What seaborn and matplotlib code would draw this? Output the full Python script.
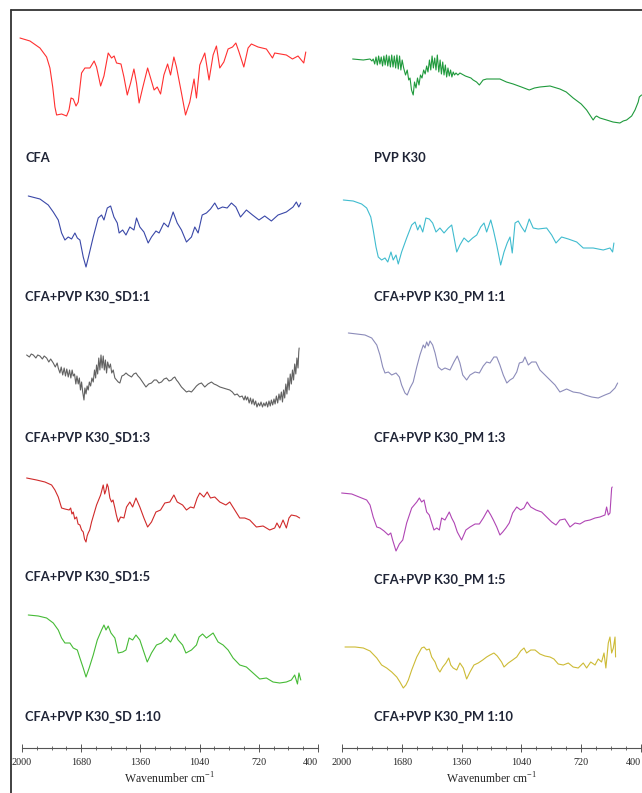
import numpy as np
import pandas as pd
import seaborn as sns
import matplotlib.pyplot as plt
from matplotlib.lines import Line2D
from matplotlib.ticker import MultipleLocator

sns.set_theme(style="white")
plt.rcParams['font.family'] = ['DejaVu Sans']
plt.rcParams['mathtext.fontset'] = 'custom'
plt.rcParams['mathtext.rm'] = 'Liberation Serif'

# ---------------- data: (wavenumber cm-1, relative transmittance) ----------------
CFA = [(2011, 92), (1957, 89), (1903, 82), (1867, 73), (1849, 62), (1834, 43), (1822, 23), (1813, 15),
       (1786, 16), (1759, 14), (1746, 20), (1735, 32), (1723, 31), (1708, 24), (1696, 28), (1678, 57),
       (1660, 62), (1633, 62), (1610, 69), (1597, 63), (1575, 44), (1557, 54), (1534, 77), (1516, 72),
       (1502, 74), (1489, 67), (1465, 66), (1449, 53), (1431, 35), (1413, 47), (1395, 61), (1381, 47),
       (1367, 27), (1348, 42), (1321, 62), (1305, 52), (1286, 40), (1269, 43), (1251, 36), (1233, 55),
       (1213, 66), (1197, 55), (1179, 73), (1165, 63), (1138, 37), (1116, 15), (1093, 28), (1070, 51),
       (1057, 32), (1039, 65), (1012, 77), (989, 50), (967, 75), (949, 84), (931, 62), (909, 68),
       (886, 81), (862, 83), (844, 87), (827, 78), (801, 63), (778, 82), (760, 86), (724, 83),
       (679, 81), (646, 72), (634, 77), (571, 75), (538, 71), (508, 74), (477, 67), (466, 78)]

PVP_K30 = [(1943, 71), (1886, 70), (1850, 71), (1840, 69), (1833, 71), (1825, 66), (1818, 73), (1811, 65),
           (1804, 74), (1797, 66), (1790, 73), (1783, 64), (1776, 74), (1769, 65), (1762, 75), (1755, 64),
           (1748, 74), (1741, 63), (1734, 75), (1727, 63), (1720, 74), (1713, 62), (1706, 75), (1699, 61),
           (1692, 74), (1685, 60), (1678, 70), (1670, 62), (1660, 55), (1651, 60), (1643, 50), (1636, 52),
           (1628, 40), (1619, 35), (1612, 48), (1604, 42), (1596, 52), (1588, 45), (1580, 55), (1572, 52),
           (1563, 60), (1555, 56), (1547, 64), (1540, 58), (1532, 70), (1525, 60), (1518, 74), (1511, 62),
           (1504, 72), (1497, 60), (1490, 75), (1482, 58), (1475, 70), (1468, 56), (1461, 68), (1454, 55),
           (1447, 65), (1440, 53), (1433, 62), (1426, 54), (1419, 60), (1412, 53), (1405, 58), (1398, 55),
           (1390, 57), (1380, 55), (1369, 57), (1340, 54), (1310, 52), (1298, 50), (1280, 48), (1265, 45),
           (1245, 50), (1226, 51), (1190, 51), (1155, 51), (1120, 48), (1084, 46), (1040, 43), (998, 40),
           (970, 42), (941, 43), (887, 44), (834, 41), (800, 38), (763, 32), (720, 26), (691, 20),
           (670, 14), (656, 10), (645, 13), (638, 14), (620, 12), (584, 10), (550, 8), (513, 7),
           (495, 9), (477, 10), (450, 14), (432, 20), (415, 28), (409, 33), (397, 35)]

SD_1_1 = [(1966, 74), (1903, 71), (1858, 65), (1831, 58), (1804, 50), (1786, 37), (1768, 30), (1750, 33),
          (1732, 31), (1714, 37), (1701, 32), (1687, 30), (1669, 13), (1654, 3), (1642, 12), (1615, 33),
          (1588, 52), (1570, 55), (1557, 50), (1539, 62), (1521, 64), (1503, 53), (1485, 47), (1475, 37),
          (1456, 40), (1438, 35), (1417, 43), (1395, 40), (1381, 52), (1363, 43), (1341, 38), (1318, 27),
          (1300, 33), (1276, 39), (1259, 37), (1233, 47), (1210, 43), (1183, 58), (1161, 47), (1138, 40),
          (1111, 28), (1084, 33), (1066, 43), (1048, 37), (1026, 55), (1003, 57), (981, 61), (958, 67),
          (940, 61), (916, 63), (891, 62), (868, 67), (844, 63), (819, 53), (787, 60), (754, 55),
          (719, 50), (688, 54), (652, 49), (616, 55), (571, 58), (535, 63), (517, 68), (504, 63), (493, 67)]

PM_1_1 = [(1993, 70), (1940, 69), (1895, 66), (1868, 62), (1846, 53), (1833, 40), (1818, 23), (1806, 13),
          (1788, 10), (1770, 12), (1755, 8), (1738, 18), (1726, 10), (1711, 15), (1699, 6), (1681, 18),
          (1654, 32), (1627, 45), (1609, 48), (1595, 40), (1583, 45), (1568, 38), (1551, 52), (1533, 51),
          (1515, 47), (1497, 38), (1476, 42), (1454, 37), (1431, 42), (1413, 45), (1401, 33), (1386, 18),
          (1369, 25), (1347, 32), (1324, 28), (1301, 32), (1279, 35), (1258, 43), (1240, 47), (1226, 38),
          (1204, 50), (1190, 40), (1172, 25), (1151, 5), (1133, 18), (1116, 27), (1101, 33), (1089, 17),
          (1074, 47), (1057, 49), (1039, 43), (1021, 38), (998, 51), (977, 42), (950, 41), (905, 42),
          (878, 35), (855, 27), (825, 33), (789, 31), (744, 28), (709, 22), (656, 22), (602, 20),
          (566, 22), (552, 18), (545, 27)]

SD_1_3 = [(1975, 65), (1960, 63), (1950, 66), (1939, 65), (1925, 62), (1915, 65), (1903, 64), (1890, 61),
          (1880, 64), (1867, 62), (1855, 58), (1845, 61), (1831, 57), (1820, 53), (1810, 57), (1804, 52),
          (1795, 47), (1788, 53), (1780, 45), (1772, 52), (1765, 44), (1758, 51), (1750, 43), (1743, 50),
          (1736, 42), (1729, 50), (1723, 44), (1716, 46), (1709, 36), (1703, 44), (1696, 36), (1690, 42),
          (1684, 30), (1678, 38), (1672, 28), (1665, 20), (1660, 32), (1654, 26), (1648, 34), (1642, 30),
          (1636, 38), (1629, 34), (1622, 42), (1615, 38), (1608, 50), (1602, 42), (1597, 55), (1591, 46),
          (1585, 62), (1579, 50), (1573, 65), (1567, 52), (1561, 64), (1555, 50), (1549, 60), (1543, 47),
          (1537, 58), (1529, 52), (1522, 56), (1515, 47), (1507, 50), (1498, 42), (1489, 40), (1480, 38),
          (1471, 37), (1460, 44), (1449, 45), (1438, 47), (1426, 45), (1417, 44), (1408, 43), (1396, 46),
          (1384, 47), (1373, 44), (1363, 42), (1345, 37), (1330, 33), (1315, 36), (1300, 37), (1285, 40),
          (1273, 40), (1260, 37), (1246, 38), (1232, 41), (1219, 42), (1205, 39), (1192, 40), (1183, 42),
          (1174, 43), (1165, 40), (1156, 38), (1138, 33), (1111, 28), (1098, 29), (1084, 28), (1070, 31),
          (1057, 34), (1044, 36), (1030, 37), (1021, 35), (1012, 33), (995, 36), (976, 38), (962, 36),
          (949, 35), (930, 33), (913, 32), (895, 31), (877, 30), (863, 28), (850, 25), (837, 26),
          (823, 23), (810, 24), (800, 20), (793, 24), (787, 20), (780, 23), (772, 17), (765, 22),
          (758, 16), (751, 21), (744, 15), (737, 19), (730, 13), (722, 17), (715, 14), (708, 18),
          (700, 13), (693, 17), (686, 14), (679, 18), (672, 13), (665, 19), (658, 14), (652, 20),
          (645, 15), (638, 21), (632, 16), (625, 24), (618, 17), (611, 26), (605, 20), (598, 28),
          (592, 18), (586, 30), (580, 22), (574, 36), (568, 26), (562, 42), (556, 30), (550, 46),
          (544, 36), (538, 50), (532, 40), (526, 56), (520, 46), (514, 62), (508, 52), (504, 68), (502, 72)]

PM_1_3 = [(1966, 87), (1921, 86), (1877, 85), (1841, 82), (1814, 75), (1797, 65), (1782, 53), (1770, 47),
          (1752, 48), (1734, 45), (1711, 47), (1693, 43), (1681, 35), (1663, 27), (1651, 25), (1636, 32),
          (1619, 38), (1600, 53), (1583, 65), (1565, 75), (1556, 72), (1547, 78), (1538, 74), (1529, 79),
          (1515, 75), (1502, 67), (1485, 53), (1467, 50), (1449, 52), (1422, 50), (1401, 58), (1383, 64),
          (1369, 57), (1354, 45), (1333, 40), (1315, 45), (1288, 48), (1265, 47), (1244, 54), (1226, 58),
          (1208, 57), (1187, 63), (1172, 63), (1155, 55), (1137, 45), (1118, 37), (1101, 40), (1084, 42),
          (1065, 48), (1051, 57), (1033, 58), (1021, 63), (1003, 55), (985, 58), (962, 58), (941, 50),
          (914, 45), (887, 40), (860, 35), (834, 28), (798, 31), (763, 28), (727, 27), (700, 25),
          (664, 23), (629, 22), (593, 25), (566, 27), (539, 32), (525, 37)]

SD_1_5 = [(1975, 72), (1921, 70), (1876, 68), (1840, 65), (1822, 60), (1804, 53), (1786, 42), (1768, 41),
          (1745, 40), (1737, 42), (1730, 36), (1723, 38), (1715, 31), (1705, 33), (1697, 26), (1687, 25),
          (1678, 20), (1669, 18), (1662, 11), (1654, 8), (1648, 14), (1642, 17), (1634, 20), (1624, 28),
          (1597, 45), (1575, 55), (1568, 60), (1561, 65), (1553, 56), (1546, 60), (1540, 66), (1534, 63),
          (1525, 52), (1516, 48), (1508, 50), (1498, 42), (1490, 35), (1480, 28), (1467, 33), (1449, 32),
          (1435, 43), (1417, 48), (1402, 43), (1384, 52), (1363, 43), (1341, 32), (1321, 23), (1300, 28),
          (1276, 38), (1251, 40), (1228, 47), (1201, 48), (1179, 55), (1161, 48), (1132, 45), (1111, 40),
          (1089, 43), (1071, 42), (1053, 52), (1039, 57), (1017, 53), (999, 58), (981, 52), (958, 53),
          (931, 48), (898, 45), (877, 48), (850, 40), (823, 32), (796, 32), (769, 30), (733, 23),
          (697, 24), (661, 20), (634, 22), (622, 27), (607, 22), (589, 30), (571, 22), (557, 32),
          (544, 35), (517, 34), (499, 32)]

PM_1_5 = [(2002, 67), (1948, 66), (1895, 62), (1868, 60), (1850, 55), (1833, 43), (1814, 33), (1797, 32),
          (1775, 29), (1752, 25), (1739, 27), (1729, 20), (1711, 9), (1693, 16), (1675, 20), (1654, 37),
          (1627, 52), (1600, 58), (1586, 62), (1574, 58), (1561, 60), (1547, 48), (1533, 45), (1520, 37),
          (1508, 30), (1493, 32), (1479, 30), (1467, 42), (1449, 40), (1426, 48), (1413, 42), (1399, 37),
          (1383, 28), (1360, 20), (1337, 30), (1315, 33), (1288, 36), (1265, 36), (1244, 42), (1220, 50),
          (1204, 45), (1190, 40), (1172, 33), (1155, 25), (1140, 28), (1123, 32), (1105, 37), (1087, 47),
          (1065, 53), (1044, 50), (1026, 52), (1009, 58), (990, 53), (962, 50), (932, 48), (905, 43),
          (878, 38), (855, 35), (834, 40), (807, 41), (780, 33), (753, 37), (727, 36), (700, 39),
          (673, 40), (646, 42), (620, 43), (593, 45), (584, 53), (575, 45), (566, 47), (557, 72), (554, 73)]

SD_1_10 = [(1966, 85), (1912, 84), (1867, 82), (1831, 77), (1804, 70), (1786, 62), (1768, 57), (1741, 57),
           (1723, 52), (1701, 50), (1687, 42), (1669, 32), (1654, 23), (1637, 32), (1615, 45), (1593, 60),
           (1570, 70), (1557, 75), (1546, 70), (1534, 74), (1519, 67), (1498, 62), (1480, 47), (1456, 48),
           (1438, 50), (1421, 62), (1402, 60), (1384, 65), (1363, 60), (1345, 50), (1323, 38), (1300, 47),
           (1273, 55), (1246, 57), (1219, 62), (1197, 58), (1174, 66), (1156, 60), (1132, 55), (1114, 47),
           (1084, 50), (1057, 55), (1043, 63), (1024, 66), (1003, 62), (967, 67), (940, 58), (913, 55),
           (886, 50), (859, 42), (823, 35), (787, 33), (751, 27), (715, 21), (679, 22), (643, 18),
           (607, 17), (571, 18), (544, 20), (526, 25), (511, 16), (503, 27), (493, 20)]

PM_1_10 = [(1984, 53), (1930, 53), (1886, 52), (1850, 49), (1814, 42), (1788, 35), (1761, 32), (1734, 28),
           (1707, 23), (1690, 18), (1672, 12), (1658, 15), (1645, 20), (1627, 30), (1600, 43), (1574, 52),
           (1561, 53), (1547, 50), (1533, 51), (1520, 43), (1502, 38), (1490, 32), (1476, 28), (1461, 33),
           (1444, 37), (1429, 42), (1418, 35), (1405, 32), (1386, 30), (1369, 37), (1351, 32), (1333, 21),
           (1315, 28), (1294, 35), (1271, 37), (1247, 40), (1226, 43), (1208, 45), (1187, 47), (1169, 44),
           (1146, 38), (1133, 33), (1110, 37), (1087, 40), (1065, 43), (1044, 49), (1026, 52), (1012, 47),
           (990, 50), (967, 50), (941, 46), (914, 44), (887, 43), (866, 41), (843, 36), (816, 35),
           (789, 37), (763, 33), (736, 32), (709, 37), (691, 32), (669, 38), (646, 35), (629, 41),
           (611, 38), (598, 47), (588, 32), (575, 57), (566, 63), (557, 47), (548, 52), (539, 63), (536, 43)]

NAMES = ["CFA", "PVP K30",
         "CFA+PVP K30_SD1:1", "CFA+PVP K30_PM 1:1",
         "CFA+PVP K30_SD1:3", "CFA+PVP K30_PM 1:3",
         "CFA+PVP K30_SD1:5", "CFA+PVP K30_PM 1:5",
         "CFA+PVP K30_SD 1:10", "CFA+PVP K30_PM 1:10"]
SERIES = [CFA, PVP_K30, SD_1_1, PM_1_1, SD_1_3, PM_1_3, SD_1_5, PM_1_5, SD_1_10, PM_1_10]
COLORS = ["#ff3030", "#1f9a3c", "#3a48a8", "#40bccf", "#626262",
          "#8c8cba", "#d02a2a", "#b046b4", "#46bb36", "#cdbb36"]
TICKS = [2000, 1680, 1360, 1040, 720, 400]

# ---------------- layout (pixels) ----------------
W, H = 642, 793
fig = plt.figure(figsize=(W / 100, H / 100), dpi=100)

COLS = [(22, 318), (342, 641)]
BANDS = [(130, 130), (270, 270), (420, 420), (550, 560), (700, 700)]   # band bottoms (left, right)
BAND_H = 110
LABEL_Y = [(158, 158), (297, 297), (438, 438), (577, 580), (717, 717)]
LABEL_X = [25, 374]


def add_ax(x0, y0, x1, y1):
    return fig.add_axes([x0 / W, 1 - y1 / H, (x1 - x0) / W, (y1 - y0) / H])


for i, (name, data, color) in enumerate(zip(NAMES, SERIES, COLORS)):
    row, col = divmod(i, 2)
    x0, x1 = COLS[col]
    yb = BANDS[row][col]
    ax = add_ax(x0, yb - BAND_H, x1, yb)
    df = pd.DataFrame(data, columns=["wavenumber", "T"])
    sns.lineplot(data=df, x="wavenumber", y="T", ax=ax, color=color, lw=0.8,
                 sort=False, estimator=None)
    for ln in ax.lines:
        ln.set_clip_on(False)
    ax.set_xlim(2000, 400)
    ax.set_ylim(0, BAND_H)
    ax.axis("off")
    fig.text(LABEL_X[col] / W, 1 - LABEL_Y[row][col] / H, name,
             family=["Lato", "DejaVu Sans"], fontweight="bold", fontsize=9.3,
             color="#1f2436", va="center", ha="left")

# bottom wavenumber axes
for (x0, x1) in COLS:
    ax = add_ax(x0, 747, x1, 748)
    ax.set_xlim(2000, 400)
    ax.set_yticks([])
    for s in ("top", "left", "right"):
        ax.spines[s].set_visible(False)
    ax.spines["bottom"].set_color("#555555")
    ax.spines["bottom"].set_linewidth(0.8)
    ax.patch.set_alpha(0)
    ax.set_xticks(TICKS)
    ax.set_xticklabels([str(t) for t in TICKS], family="Liberation Serif", fontsize=7.3)
    ax.get_xticklabels()[-1].set_horizontalalignment("right")
    ax.xaxis.set_minor_locator(MultipleLocator(80))
    ax.tick_params(axis="x", which="major", direction="inout", length=6, width=0.7,
                   color="#555555", pad=4, bottom=True)
    ax.tick_params(axis="x", which="minor", direction="inout", length=3, width=0.6,
                   color="#555555", bottom=True)
    ax.set_xlabel(r"Wavenumber cm$^{\mathregular{-1}}$", family="Liberation Serif",
                  fontsize=8.5, labelpad=3)

# frame lines of the figure box
fig.add_artist(Line2D([11 / W, 11 / W], [0, 1 - 10 / H], transform=fig.transFigure,
                      color="#333333", lw=1.3))
fig.add_artist(Line2D([11 / W, 1], [1 - 10 / H, 1 - 10 / H], transform=fig.transFigure,
                      color="#333333", lw=1.3))

fig.savefig("out.png", dpi=100, facecolor="white")
